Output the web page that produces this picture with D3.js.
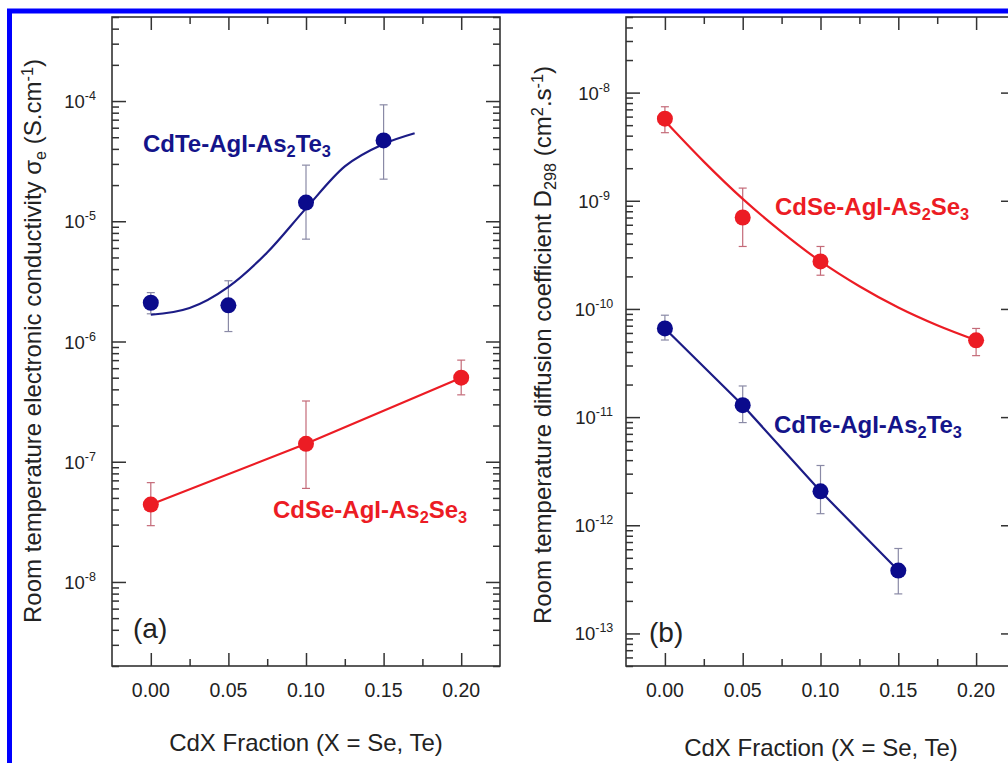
<!DOCTYPE html>
<html><head><meta charset="utf-8">
<script src="https://cdn.jsdelivr.net/npm/d3@7"></script>
<style>body{margin:0;background:#fff;overflow:hidden} svg{display:block}</style>
</head><body>
<svg id="chart" width="1008" height="763"></svg>
<script>
// ---------- data ----------
const xTickValues = [0, 0.05, 0.10, 0.15, 0.20];
const xMinorValues = [0.025, 0.075, 0.125, 0.175];
const xTickLabels = ["0.00", "0.05", "0.10", "0.15", "0.20"];

// panel (a): electronic conductivity (S/cm)
const teFracA = [0, 0.05, 0.10, 0.15];
const teSigma = [2.1e-6, 2.0e-6, 1.43e-5, 4.7e-5];
const teSigmaHi = [2.55e-6, 3.2e-6, 2.93e-5, 9.3e-5];
const teSigmaLo = [1.7e-6, 1.21e-6, 7.1e-6, 2.24e-5];
const teFitXA = [0, 0.025, 0.05, 0.075, 0.10, 0.125, 0.15, 0.17];
const teFitYA = [1.67e-6, 1.9e-6, 2.85e-6, 5.5e-6, 1.28e-5, 2.86e-5, 4.4e-5, 5.4e-5];

const seFracA = [0, 0.10, 0.20];
const seSigma = [4.4e-8, 1.41e-7, 5.0e-7];
const seSigmaHi = [6.7e-8, 3.2e-7, 7.0e-7];
const seSigmaLo = [2.94e-8, 6.0e-8, 3.6e-7];

const yExpA = [-8, -7, -6, -5, -4];

// panel (b): diffusion coefficient (cm2/s)
const seFracB = [0, 0.05, 0.10, 0.20];
const seD = [5.74e-9, 7.0e-10, 2.75e-10, 5.13e-11];
const seDHi = [7.4e-9, 1.31e-9, 3.78e-10, 6.6e-11];
const seDLo = [4.26e-9, 3.78e-10, 2.05e-10, 3.7e-11];
const seFitXB = [0, 0.025, 0.05, 0.075, 0.10, 0.125, 0.15, 0.175, 0.20];
const seFitYB = [5.46e-9, 2.3e-9, 1.04e-9, 5.16e-10, 2.75e-10, 1.62e-10, 1.03e-10, 7.06e-11, 5.13e-11];

const teFracB = [0, 0.05, 0.10, 0.15];
const teD = [6.6e-11, 1.29e-11, 2.06e-12, 3.81e-13];
const teDHi = [8.75e-11, 1.94e-11, 3.57e-12, 6.1e-13];
const teDLo = [5.16e-11, 8.9e-12, 1.28e-12, 2.32e-13];

const yExpB = [-13, -12, -11, -10, -9, -8];

// ---------- style ----------
const RED = "#ec1c24", BLUE = "#0b0b8c";
const RED_ERR = "#c46a78", BLUE_ERR = "#8a8aa6";
const AXIS = "#333333";
const FONT = "Arial, 'Liberation Sans', Helvetica, sans-serif";

const svg = d3.select("#chart");
svg.append("rect").attr("width", 1008).attr("height", 763).attr("fill", "#fff");

function rich(sel, parts, base) {
  parts.forEach(p => {
    const t = sel.append("tspan").text(p.t);
    if (p.s === "sub") t.attr("font-size", base * 0.68).attr("baseline-shift", "-34%");
    else if (p.s === "sup") t.attr("font-size", base * 0.68).attr("baseline-shift", "50%");
  });
}

function panel(cfg) {
  const x = d3.scaleLinear().domain([-0.025, 0.225]).range([cfg.left, cfg.right]);
  const y = d3.scaleLog().domain(cfg.yDomain).range([666, 17]);
  const g = svg.append("g");

  const [e0, e1] = [Math.floor(Math.log10(cfg.yDomain[0])), Math.ceil(Math.log10(cfg.yDomain[1]))];
  const yMajors = [], yMinors = [];
  for (let e = e0; e <= e1; e++) {
    for (let m = 1; m <= 9; m++) {
      const v = m * Math.pow(10, e);
      if (v < cfg.yDomain[0] * 0.999 || v > cfg.yDomain[1] * 1.001) continue;
      (m === 1 ? yMajors : yMinors).push(v);
    }
  }

  const axisStyle = s => { s.select(".domain").remove(); s.selectAll("line").attr("stroke", AXIS).attr("stroke-width", 1.5); s.selectAll("text").remove(); };
  g.append("g").attr("transform", `translate(${cfg.left},0)`).call(d3.axisRight(y).tickValues(yMajors).tickSize(14)).call(axisStyle);
  g.append("g").attr("transform", `translate(${cfg.left},0)`).call(d3.axisRight(y).tickValues(yMinors).tickSize(7)).call(axisStyle);
  g.append("g").attr("transform", `translate(${cfg.right},0)`).call(d3.axisLeft(y).tickValues(yMajors).tickSize(14)).call(axisStyle);
  g.append("g").attr("transform", `translate(${cfg.right},0)`).call(d3.axisLeft(y).tickValues(yMinors).tickSize(7)).call(axisStyle);
  g.append("g").attr("transform", `translate(0,666)`).call(d3.axisTop(x).tickValues(xTickValues).tickSize(13)).call(axisStyle);
  g.append("g").attr("transform", `translate(0,666)`).call(d3.axisTop(x).tickValues(xMinorValues).tickSize(7)).call(axisStyle);
  g.append("g").attr("transform", `translate(0,17)`).call(d3.axisBottom(x).tickValues(xTickValues).tickSize(13)).call(axisStyle);
  g.append("g").attr("transform", `translate(0,17)`).call(d3.axisBottom(x).tickValues(xMinorValues).tickSize(7)).call(axisStyle);

  g.append("rect").attr("x", cfg.left).attr("y", 17).attr("width", cfg.right - cfg.left).attr("height", 649)
    .attr("fill", "none").attr("stroke", AXIS).attr("stroke-width", 1.6);

  g.selectAll(".xl").data(xTickValues).join("text")
    .attr("x", d => x(d)).attr("y", 697).attr("text-anchor", "middle")
    .attr("font-family", FONT).attr("font-size", 19.5).attr("fill", "#222")
    .text((d, i) => xTickLabels[i]);

  cfg.yExp.forEach(e => {
    const t = g.append("text").attr("x", cfg.left - 32).attr("y", y(Math.pow(10, e)) + 7)
      .attr("text-anchor", "middle").attr("font-family", FONT).attr("font-size", 18.5).attr("fill", "#222");
    t.append("tspan").text("10");
    t.append("tspan").text("-" + Math.abs(e)).attr("font-size", 12.5).attr("baseline-shift", "58%");
  });

  g.append("text").attr("x", cfg.xTitleX).attr("y", cfg.xTitleY).attr("text-anchor", "middle")
    .attr("font-family", FONT).attr("font-size", 24).attr("fill", "#222")
    .text("CdX Fraction (X = Se, Te)");
  const yt = g.append("text").attr("transform", `translate(${cfg.yTitleX},${cfg.yTitleY}) rotate(-90)`)
    .attr("text-anchor", "middle").attr("font-family", FONT).attr("font-size", 24).attr("fill", "#222");
  rich(yt, cfg.yTitle, 24);

  g.append("text").attr("x", cfg.tagX).attr("y", cfg.tagY).attr("font-family", FONT)
    .attr("font-size", 28).attr("fill", "#222").text(cfg.tag);

  return { x, y, g };
}

function errorBars(p, xs, lo, hi, color) {
  const cap = 4;
  const eg = p.g.append("g").attr("stroke", color).attr("stroke-width", 1.2);
  xs.forEach((xv, i) => {
    const cx = p.x(xv);
    eg.append("line").attr("x1", cx).attr("x2", cx).attr("y1", p.y(lo[i])).attr("y2", p.y(hi[i]));
    eg.append("line").attr("x1", cx - cap).attr("x2", cx + cap).attr("y1", p.y(lo[i])).attr("y2", p.y(lo[i]));
    eg.append("line").attr("x1", cx - cap).attr("x2", cx + cap).attr("y1", p.y(hi[i])).attr("y2", p.y(hi[i]));
  });
}
function curve(p, xs, ys, color, smooth) {
  const line = d3.line().x(d => p.x(d[0])).y(d => p.y(d[1])).curve(smooth ? d3.curveMonotoneX : d3.curveLinear);
  p.g.append("path").attr("d", line(xs.map((v, i) => [v, ys[i]])))
    .attr("fill", "none").attr("stroke", color).attr("stroke-width", 2.2);
}
function dots(p, xs, ys, color) {
  p.g.selectAll(null).data(xs).join("circle")
    .attr("cx", d => p.x(d)).attr("cy", (d, i) => p.y(ys[i])).attr("r", 8).attr("fill", color);
}
function label(p, x, y, parts, color) {
  const t = p.g.append("text").attr("x", x).attr("y", y).attr("font-family", FONT)
    .attr("font-size", 24).attr("font-weight", "bold").attr("fill", color);
  rich(t, parts, 24);
}

// ---------- panel (a) ----------
const pa = panel({
  left: 112, right: 500, yDomain: [2e-9, 5e-4], yExp: yExpA,
  xTitleX: 306, xTitleY: 751, yTitleX: 41, yTitleY: 341,
  yTitle: [{ t: "Room temperature electronic conductivity \u03c3" }, { t: "e", s: "sub" }, { t: " (S.cm" }, { t: "-1", s: "sup" }, { t: ")" }],
  tag: "(a)", tagX: 133, tagY: 638
});
errorBars(pa, teFracA, teSigmaLo, teSigmaHi, BLUE_ERR);
errorBars(pa, seFracA, seSigmaLo, seSigmaHi, RED_ERR);
curve(pa, teFitXA, teFitYA, "#1c1c86", true);
curve(pa, seFracA, seSigma, RED, false);
dots(pa, teFracA, teSigma, BLUE);
dots(pa, seFracA, seSigma, RED);
label(pa, 143, 152, [{ t: "CdTe-AgI-As" }, { t: "2", s: "sub" }, { t: "Te" }, { t: "3", s: "sub" }], "#14148a");
label(pa, 273, 518, [{ t: "CdSe-AgI-As" }, { t: "2", s: "sub" }, { t: "Se" }, { t: "3", s: "sub" }], RED);

// ---------- panel (b) ----------
const pb = panel({
  left: 626, right: 1015, yDomain: [5e-14, 5e-8], yExp: yExpB,
  xTitleX: 821, xTitleY: 756, yTitleX: 551, yTitleY: 345,
  yTitle: [{ t: "Room temperature diffusion coefficient D" }, { t: "298", s: "sub" }, { t: " (cm" }, { t: "2", s: "sup" }, { t: ".s" }, { t: "-1", s: "sup" }, { t: ")" }],
  tag: "(b)", tagX: 649, tagY: 642
});
errorBars(pb, seFracB, seDLo, seDHi, RED_ERR);
errorBars(pb, teFracB, teDLo, teDHi, BLUE_ERR);
curve(pb, seFitXB, seFitYB, RED, true);
curve(pb, teFracB, teD, "#1c1c86", false);
dots(pb, seFracB, seD, RED);
dots(pb, teFracB, teD, BLUE);
label(pb, 775, 215, [{ t: "CdSe-AgI-As" }, { t: "2", s: "sub" }, { t: "Se" }, { t: "3", s: "sub" }], RED);
label(pb, 774, 433, [{ t: "CdTe-AgI-As" }, { t: "2", s: "sub" }, { t: "Te" }, { t: "3", s: "sub" }], "#14148a");

// outer blue frame (clipped by the window at right/bottom)
svg.append("rect").attr("x", 9.5).attr("y", 11).attr("width", 1100).attr("height", 900)
  .attr("fill", "none").attr("stroke", "#0000ff").attr("stroke-width", 5);
</script>
</body></html>
